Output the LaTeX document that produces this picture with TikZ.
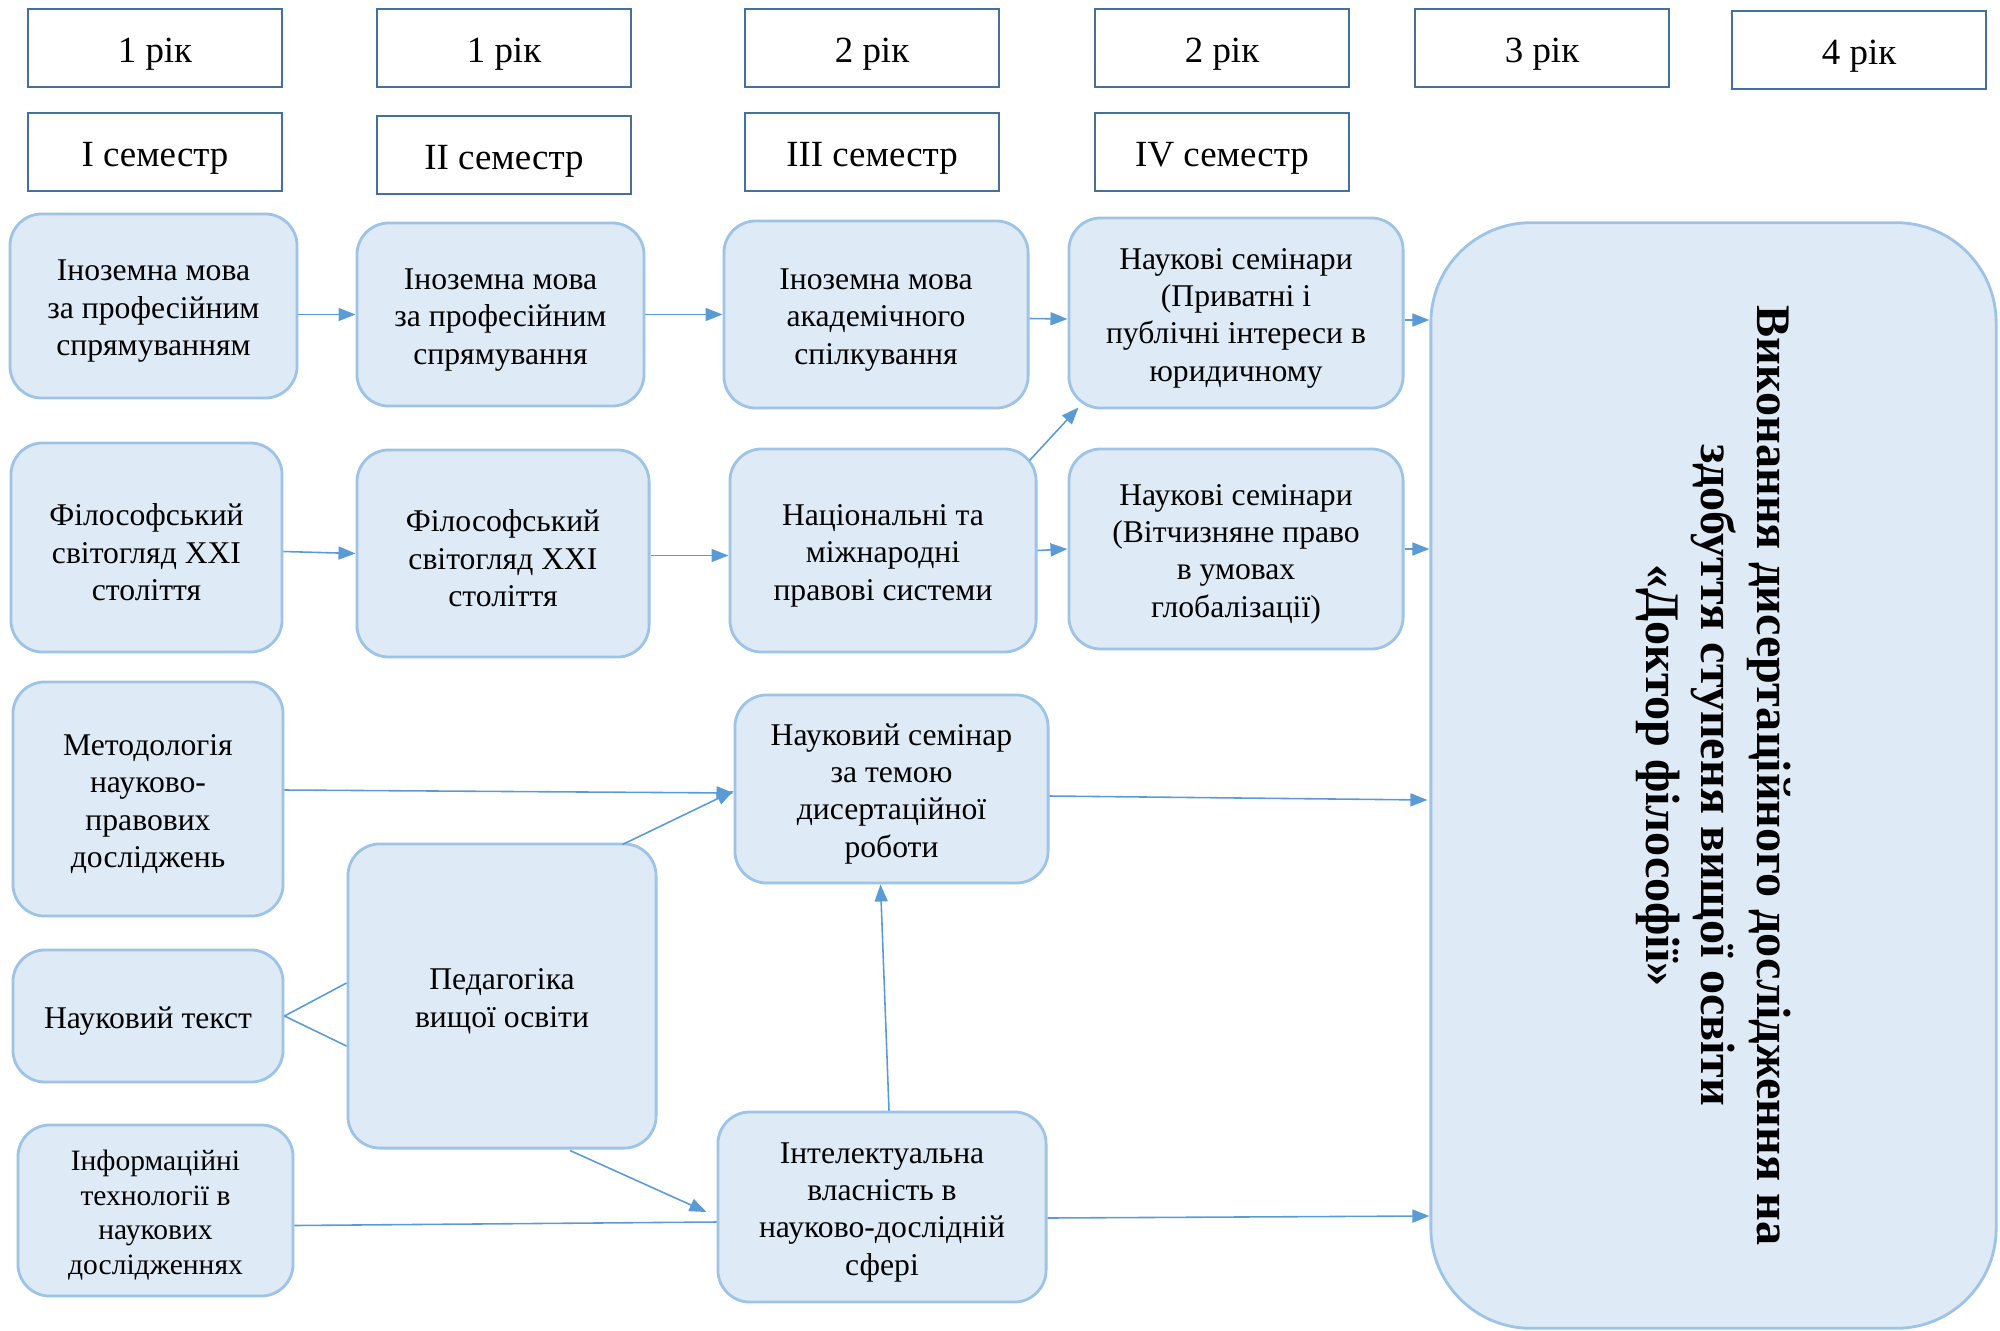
\documentclass[tikz,border=0pt]{standalone}
\usepackage{fontspec}
\setmainfont{Liberation Serif}
\usetikzlibrary{arrows.meta,calc}
\definecolor{boxfill}{RGB}{222,235,247}
\definecolor{boxline}{RGB}{157,195,230}
\definecolor{hdrline}{RGB}{65,113,156}
\definecolor{arrcol}{RGB}{91,155,213}
\newcommand\myfs{\rule{0pt}{8.9pt}}
\begin{document}
\begin{tikzpicture}[x=0.01cm,y=-0.01cm,
  hdr/.style={draw=hdrline,line width=0.75pt,fill=white,minimum width=2.54cm,minimum height=0.78cm,inner sep=0pt,font=\fontsize{10.5}{12}\selectfont,execute at begin node={\rule{0pt}{10.6pt}}},
  rbox/.style={draw=boxline,line width=0.8pt,fill=boxfill,rounded corners=0.32cm,inner sep=0pt,align=center,font=\fontsize{9}{10.6}\selectfont},
  bigtext/.style={font=\bfseries\fontsize{13.7}{15.9}\selectfont},
  arr/.style={draw=arrcol,line width=0.45pt,-{Triangle[length=0.17cm,width=0.13cm]}},
  ln/.style={draw=arrcol,line width=0.45pt}]
\useasboundingbox (0,0) rectangle (2000,1330);
% header rows
\node[hdr] (Y1) at (155,48) {1 рік};
\node[hdr] (Y2) at (504,48) {1 рік};
\node[hdr] (Y3) at (872,48) {2 рік};
\node[hdr] (Y4) at (1222,48) {2 рік};
\node[hdr] (Y5) at (1542,48) {3 рік};
\node[hdr] (Y6) at (1859,50) {4 рік};
\node[hdr] (S1) at (155,152) {I семестр};
\node[hdr] (S2) at (504,155) {II семестр};
\node[hdr] (S3) at (872,152) {III семестр};
\node[hdr] (S4) at (1222,152) {IV семестр};
% boxes
\node[rbox,minimum width=2.87cm,minimum height=1.84cm] (A1) at (153.5,306) {\myfs Іноземна мова\\за професійним\\спрямуванням};
\node[rbox,minimum width=2.87cm,minimum height=1.83cm] (A2) at (500.5,314.5) {\myfs Іноземна мова\\за професійним\\спрямування};
\node[rbox,minimum width=3.04cm,minimum height=1.87cm] (A3) at (876,314.5) {\myfs Іноземна мова\\академічного\\спілкування};
\node[rbox,minimum width=3.34cm,minimum height=1.90cm] (A4) at (1236,313) {\myfs Наукові семінари\\(Приватні і\\публічні інтереси в\\юридичному};
\node[rbox,minimum width=2.71cm,minimum height=2.09cm] (B1) at (146.5,547.5) {\myfs Філософський\\світогляд XXI\\століття};
\node[rbox,minimum width=2.92cm,minimum height=2.07cm] (B2) at (503,553.5) {\myfs Філософський\\світогляд XXI\\століття};
\node[rbox,minimum width=3.06cm,minimum height=2.03cm] (B3) at (883,550.5) {\myfs Національні та\\міжнародні\\правові системи};
\node[rbox,minimum width=3.34cm,minimum height=2.00cm] (B4) at (1236,549) {\myfs Наукові семінари\\(Вітчизняне право\\в умовах\\глобалізації)};
\node[rbox,minimum width=2.70cm,minimum height=2.34cm] (C1) at (148,799) {\myfs Методологія\\науково-\\правових\\досліджень};
\node[rbox,minimum width=3.13cm,minimum height=1.88cm] (C3) at (891.5,789) {\myfs Науковий семінар\\за темою\\дисертаційної\\роботи};
\node[rbox,minimum width=2.70cm,minimum height=1.32cm] (D1) at (148,1016) {\myfs Науковий текст};
\node[rbox,minimum width=3.08cm,minimum height=3.04cm] (P) at (502,996) {\myfs Педагогіка\\вищої освіти};
\node[rbox,minimum width=2.75cm,minimum height=1.71cm,font=\fontsize{8.4}{9.8}\selectfont] (E1) at (155.5,1210.5) {\rule{0pt}{8.4pt}Інформаційні\\технології в\\наукових\\дослідженнях};
\node[rbox,minimum width=3.28cm,minimum height=1.90cm] (E3) at (882,1207) {\myfs Інтелектуальна\\власність в\\науково-дослідній\\сфері};
% big box, rotated: its south side is the left side on the page
\node[rbox,bigtext,rotate=-90,rounded corners=1.0cm,minimum width=11.05cm,minimum height=5.65cm] (Big) at (1713.5,775.5) {Виконання дисертаційного дослідження на\\здобуття ступеня вищої освіти\\«Доктор філософії»};
% connectors
\draw[arr] (A1.east |- A2.west) -- (A2.west);
\draw[arr] (A2.east) -- (A3.west |- A2.east);
\draw[arr] ($(A3.east)+(0,4)$) -- ($(A4.west)+(0,6)$);
\draw[arr] ($(A4.east)+(0,7)$) -- ($(A4.east -| Big.south)+(0,7)$);
\draw[arr] ($(B1.east)+(0,4)$) -- (B2.west);
\draw[arr] ($(B2.east)+(0,2)$) -- ($(B3.west)+(0,5)$);
\draw[arr] (B3.east) -- (B4.west);
\draw[arr] (B4.east) -- (B4.east -| Big.south);
\draw[arr] ($(B3.north east)+(-8,13)$) -- ($(A4.south west)+(11,-2)$);
\draw[arr] ($(C1.east)+(0,-9)$) -- ($(C3.west)+(0,4)$);
\draw[arr] ($(C3.east)+(0,7)$) -- ($(C3.east -| Big.south)+(-2,11)$);
\draw[arr] ($(P.north east)+(-35,2)$) -- ($(C3.west)+(0,2)$);
\draw[ln] (D1.east) -- ($(P.west)+(0,-13)$);
\draw[ln] (D1.east) -- ($(P.west)+(0,50)$);
\draw[arr] ($(P.south)+(68,1)$) -- ($(E3.west)+(-10,5)$);
\draw[ln] ($(E1.east)+(0,15)$) -- ($(E3.west)+(0,15)$);
\draw[arr] ($(E3.north)+(7,0)$) -- ($(C3.south)+(-11,0)$);
\draw[arr] ($(E3.east)+(0,11)$) -- ($(E3.east -| Big.south)+(0,9)$);
\end{tikzpicture}
\end{document}
